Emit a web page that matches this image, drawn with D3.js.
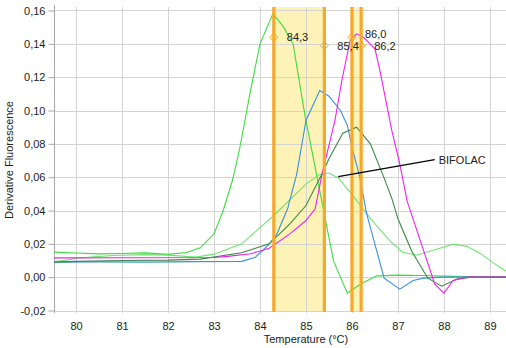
<!DOCTYPE html>
<html><head><meta charset="utf-8">
<script src="https://cdn.jsdelivr.net/npm/d3@7"></script>
<style>
html,body{margin:0;padding:0;background:#fff;}
svg{display:block;font-family:"Liberation Sans",Arial,sans-serif;}
</style></head>
<body><svg id="c" width="506" height="348"></svg>
<script>
// ---- data ----
const xTicks = [80,81,82,83,84,85,86,87,88,89];
const yTicks = [-0.02,0,0.02,0.04,0.06,0.08,0.10,0.12,0.14,0.16];
const xDomain = [79.52, 89.35];
const yDomain = [-0.0209, 0.1621];

const seriesBrightGreen = [[79.52,0.0150],[80.0,0.0145],[80.5,0.0140],[81.0,0.0142],[81.5,0.0146],[82.0,0.0137],[82.4,0.0148],[82.7,0.0176],[83.0,0.026],[83.2,0.040],[83.4,0.058],[83.55,0.076],[83.78,0.110],[84.0,0.140],[84.28,0.158],[84.5,0.1506],[84.72,0.140],[84.98,0.0966],[85.13,0.0756],[85.6,0.0096],[85.9,-0.0096],[86.2,-0.004],[86.54,0.0008],[87.0,0.0012],[87.5,0.0010],[88.0,0.0006],[88.5,0.0004],[89.35,0.0003]];
const seriesLightGreen = [[79.52,0.0092],[80.1,0.0116],[80.8,0.0130],[81.5,0.0135],[82.0,0.0132],[82.6,0.0120],[83.0,0.0138],[83.6,0.020],[84.3,0.037],[85.0,0.0558],[85.3,0.0615],[85.5,0.0625],[85.7,0.0595],[85.96,0.051],[86.24,0.041],[86.45,0.0336],[86.83,0.0216],[87.1,0.0150],[87.41,0.0132],[87.8,0.0165],[88.2,0.0198],[88.5,0.0185],[88.78,0.0144],[89.05,0.0090],[89.35,0.0036]];
const seriesBlue = [[79.52,0.0090],[80.5,0.0092],[81.5,0.0090],[82.5,0.0093],[83.6,0.0095],[83.9,0.012],[84.2,0.0198],[84.37,0.026],[84.6,0.041],[84.8,0.062],[85.0,0.094],[85.3,0.112],[85.5,0.1086],[85.75,0.100],[85.9,0.091],[86.0,0.078],[86.17,0.060],[86.32,0.038],[86.7,-0.0006],[87.04,-0.0072],[87.33,-0.002],[87.55,-0.0006],[88.0,0],[89.35,0]];
const seriesDarkGreen = [[79.52,0.0090],[80.0,0.0095],[81.0,0.0100],[82.0,0.0102],[82.7,0.0108],[83.6,0.0146],[84.2,0.020],[84.65,0.032],[85.0,0.043],[85.35,0.062],[85.5,0.071],[85.8,0.0864],[86.1,0.090],[86.4,0.080],[86.7,0.0594],[86.87,0.047],[87.0,0.035],[87.3,0.0156],[87.65,-0.0006],[87.95,-0.0054],[88.3,-0.001],[88.6,0],[89.35,0]];
const seriesMagenta = [[79.52,0.0116],[83.0,0.0118],[83.3,0.0125],[83.8,0.014],[84.2,0.0174],[84.65,0.026],[85.0,0.034],[85.2,0.041],[85.35,0.062],[85.63,0.094],[85.78,0.118],[85.96,0.142],[86.1,0.146],[86.25,0.144],[86.5,0.137],[86.6,0.125],[86.87,0.0876],[87.04,0.068],[87.2,0.0456],[87.8,-0.004],[88.0,-0.0096],[88.2,-0.002],[88.5,0],[89.35,0]];

const markerTemps = [84.3, 85.4, 86.0, 86.2];
const markerValues = [0.1439, 0.1390, 0.1439, 0.1390];
const markerLabels = ["84,3", "85,4", "86,0", "86,2"];
const shadeRanges = [[84.3, 85.4], [86.0, 86.2]];
const annotationText = "BIFOLAC";
const annotationFrom = [85.7, 0.0603];
const annotationTo = [87.8, 0.0705];

// ---- layout ----
const L = 54, R = 506, T = 7, B = 312;
const svg = d3.select("#c");
const x = d3.scaleLinear().domain(xDomain).range([L, R]);
const y = d3.scaleLinear().domain(yDomain).range([B, T]);
const fmt = v => d3.format(".2f")(v).replace(".", ",").replace("−","-");

svg.append("defs").append("clipPath").attr("id","clip")
  .append("rect").attr("x",L).attr("y",T).attr("width",R-L).attr("height",B-T);

// shading
svg.append("g").selectAll("rect").data(shadeRanges).join("rect")
  .attr("x", d => x(d[0])).attr("width", d => x(d[1]) - x(d[0]))
  .attr("y", T).attr("height", B - T).attr("fill", "#fdf3b7");

// grid
const grid = svg.append("g").attr("stroke", "#d4d4d4").attr("stroke-width", 1);
grid.selectAll(".gx").data(xTicks).join("line")
  .attr("x1", d => Math.round(x(d))+0.5).attr("x2", d => Math.round(x(d))+0.5)
  .attr("y1", T).attr("y2", B+1);
grid.selectAll(".gy").data(yTicks).join("line")
  .attr("y1", d => Math.round(y(d))+0.5).attr("y2", d => Math.round(y(d))+0.5)
  .attr("x1", L).attr("x2", R);

// y axis
const yAxis = d3.axisLeft(y).tickValues(yTicks).tickFormat(fmt).tickSize(6).tickPadding(3);
const gy = svg.append("g").attr("transform", `translate(${L+0.5},0)`).call(yAxis);
gy.select(".domain").attr("stroke", "#a8a8a8").attr("d", `M0,${T-2}V${B+1}`);
gy.selectAll(".tick line").attr("stroke", "#a8a8a8");
gy.selectAll(".tick text").attr("font-size", 11).attr("fill", "#222")
  .attr("font-family", '"Liberation Sans",Arial,sans-serif');

// x axis labels
const xAxis = d3.axisBottom(x).tickValues(xTicks).tickFormat(d => d).tickSize(0).tickPadding(10);
const gx = svg.append("g").attr("transform", `translate(0,${B})`).call(xAxis);
gx.select(".domain").remove();
gx.selectAll(".tick text").attr("font-size", 11).attr("fill", "#222")
  .attr("font-family", '"Liberation Sans",Arial,sans-serif');

// axis titles
svg.append("text").attr("x", 306).attr("y", 343).attr("text-anchor", "middle")
  .attr("font-size", 11).attr("fill", "#222").text("Temperature (°C)");
svg.append("text").attr("transform", "translate(13,160) rotate(-90)").attr("text-anchor", "middle")
  .attr("font-size", 11).attr("fill", "#222").text("Derivative Fluorescence");

// curves
const line = d3.line().x(d => x(d[0])).y(d => y(d[1])).curve(d3.curveLinear);
const curves = [
  [seriesLightGreen, "#70e470"],
  [seriesBrightGreen, "#3edc3e"],
  [seriesBlue, "#3b8ee4"],
  [seriesDarkGreen, "#3a8a42"],
  [seriesMagenta, "#f020f0"]
];
const gc = svg.append("g").attr("clip-path", "url(#clip)");
curves.forEach(([data, color]) => {
  gc.append("path").attr("d", line(data)).attr("fill", "none")
    .attr("stroke", color).attr("stroke-width", 1.1);
});

// orange bars
svg.append("g").selectAll("line").data(markerTemps).join("line")
  .attr("x1", d => x(d)).attr("x2", d => x(d)).attr("y1", T).attr("y2", B)
  .attr("stroke", "#f7a72a").attr("stroke-width", 3.2);

// diamonds
const sym = d3.symbol().type(d3.symbolDiamond2).size(42);
svg.append("g").selectAll("path").data(markerTemps).join("path")
  .attr("d", sym)
  .attr("transform", (d, i) => `translate(${x(d)},${y(markerValues[i])})`)
  .attr("fill", "none").attr("stroke", "#f7a72a").attr("stroke-width", 1);

svg.append("g").selectAll("text").data(markerTemps).join("text")
  .attr("x", d => x(d) + 13)
  .attr("y", (d, i) => y(markerValues[i]) + 4 - (i === 2 ? 3 : 0))
  .attr("font-size", 11).attr("fill", "#222")
  .text((d, i) => markerLabels[i]);

// annotation
svg.append("line")
  .attr("x1", x(annotationFrom[0])).attr("y1", y(annotationFrom[1]))
  .attr("x2", x(annotationTo[0])).attr("y2", y(annotationTo[1]))
  .attr("stroke", "#000").attr("stroke-width", 1.2);
svg.append("text").attr("x", x(annotationTo[0]) + 4).attr("y", y(annotationTo[1]) + 4)
  .attr("font-size", 11).attr("fill", "#222").text(annotationText);
</script></body></html>
